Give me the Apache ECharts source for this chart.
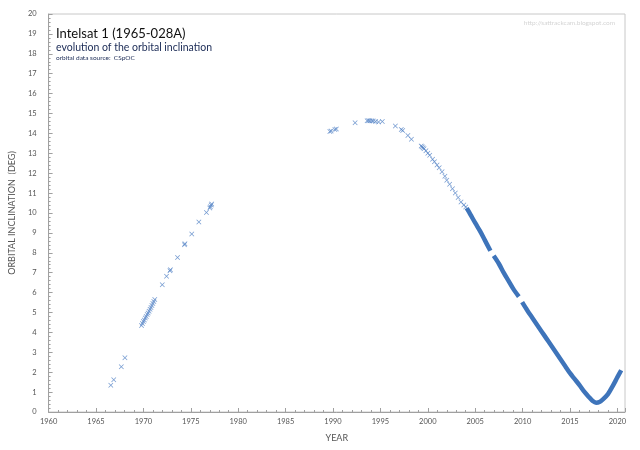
<!DOCTYPE html>
<html>
<head>
<meta charset="utf-8">
<script src="https://cdn.jsdelivr.net/npm/echarts@6/dist/echarts.min.js"></script>
<style>
html, body { margin: 0; padding: 0; background: #fff; }
#chart { width: 640px; height: 450px; }
</style>
</head>
<body>
<div id="chart"></div>
<script>
// sparse tracking points [year, inclination]
var earlyPoints = [
    [1966.56, 1.35], [1966.87, 1.62], [1967.67, 2.28], [1968.05, 2.72],
    [1969.8, 4.35], [1969.9, 4.45], [1970.0, 4.55], [1970.1, 4.62], [1970.2, 4.72],
    [1970.3, 4.8], [1970.4, 4.9], [1970.5, 4.98], [1970.6, 5.06], [1970.7, 5.16],
    [1970.8, 5.25], [1970.9, 5.35], [1971.0, 5.45], [1971.1, 5.55], [1971.2, 5.65],
    [1971.99, 6.4], [1972.44, 6.82], [1972.8, 7.1], [1972.85, 7.15], [1973.6, 7.76],
    [1974.33, 8.41], [1974.38, 8.45], [1975.1, 8.94], [1975.85, 9.55], [1976.65, 10.03],
    [1977.0, 10.25], [1977.06, 10.32], [1977.15, 10.4], [1977.2, 10.45]
];
var midPoints = [
    [1989.67, 14.1], [1989.8, 14.12], [1990.2, 14.2], [1990.35, 14.22], [1992.33, 14.54],
    [1993.6, 14.63], [1993.75, 14.64], [1993.9, 14.64], [1994.1, 14.63], [1994.25, 14.62],
    [1994.5, 14.6], [1994.8, 14.57], [1995.2, 14.6], [1996.58, 14.37], [1997.2, 14.2],
    [1997.35, 14.15], [1997.9, 13.9], [1998.27, 13.7],
    [1999.3, 13.37], [1999.4, 13.33], [1999.5, 13.28], [1999.6, 13.23], [1999.8, 13.13],
    [2000.0, 13.0], [2000.2, 12.9], [2000.5, 12.7], [2000.7, 12.58], [2000.97, 12.41],
    [2001.2, 12.27], [2001.5, 12.07], [2001.8, 11.85], [2002.0, 11.65], [2002.3, 11.45],
    [2002.6, 11.22], [2002.9, 11.0], [2003.2, 10.78], [2003.5, 10.55], [2003.8, 10.4],
    [2004.0, 10.3]
];
// dense daily tracking, drawn as a thick band (null = data gap)
var denseBand = [
    [2004.1, 10.25], [2004.5, 9.92], [2005.0, 9.5], [2005.5, 9.1], [2006.0, 8.65], [2006.6, 8.1],
    [2006.75, null],
    [2006.95, 7.85], [2007.5, 7.45], [2008.0, 7.0], [2008.5, 6.6], [2009.0, 6.2], [2009.6, 5.8],
    [2009.75, null],
    [2009.95, 5.52], [2010.5, 5.1], [2011.0, 4.75], [2011.5, 4.4], [2012.0, 4.05], [2012.5, 3.7],
    [2013.0, 3.35], [2013.5, 3.0], [2014.0, 2.65], [2014.5, 2.3], [2015.0, 1.95], [2015.5, 1.65],
    [2016.0, 1.35], [2016.5, 1.02], [2017.0, 0.75], [2017.4, 0.55], [2017.75, 0.47], [2018.1, 0.5],
    [2018.5, 0.65], [2019.0, 0.9], [2019.5, 1.3], [2020.0, 1.75], [2020.4, 2.1]
];

var crossMark = 'path://M1,0L5,4L9,0L10,1L6,5L10,9L9,10L5,6L1,10L0,9L4,5L0,1Z';
var axisGray = '#a0a0a0';
var labelFont = 'Lato';

var dom = document.getElementById("chart");
var myChart = echarts.init(dom);
var option = null;

option = {
    backgroundColor: '#fff',
    animation: false,
    grid: {
        left: 38, right: 15, top: 14, bottom: 38,
        show: true,
        borderColor: '#c8c8c8',
        borderWidth: 1
    },
    title: [{
        text: 'Intelsat 1 (1965-028A)',
        left: 51, top: 22,
        textStyle: {fontFamily: labelFont, fontSize: 13, fontWeight: 'normal', color: '#111'}
    }, {
        text: 'evolution of the orbital inclination',
        left: 51, top: 37,
        textStyle: {fontFamily: labelFont, fontSize: 10.5, fontWeight: 'normal', color: '#1a2a55'}
    }, {
        text: 'orbital data source:  CSpOC',
        left: 51, top: 49,
        textStyle: {fontFamily: labelFont, fontSize: 6.5, fontWeight: 'normal', color: '#1a2a55'}
    }, {
        text: 'http://sattrackcam.blogspot.com',
        right: 20, top: 14,
        textStyle: {fontFamily: labelFont, fontSize: 6.5, fontWeight: 'normal', color: '#d4d4d4'}
    }],
    xAxis: [{
        type: 'value',
        min: 1960,
        max: 2020.8,
        interval: 5,
        name: 'YEAR',
        nameLocation: 'middle',
        nameGap: 22,
        nameTextStyle: {fontFamily: labelFont, fontSize: 9, color: '#555'},
        axisLine: {lineStyle: {color: axisGray}},
        axisTick: {inside: true, length: 4, lineStyle: {color: axisGray}},
        minorTick: {show: true, splitNumber: 5, length: 2, lineStyle: {color: axisGray}},
        axisLabel: {fontFamily: labelFont, fontSize: 7.5, color: '#555', margin: 6,
            formatter: function (v) { return v % 5 === 0 ? String(v) : ''; }},
        splitLine: {show: false}
    }],
    yAxis: [{
        type: 'value',
        min: 0,
        max: 20,
        interval: 1,
        name: 'ORBITAL INCLINATION  (DEG)',
        nameLocation: 'middle',
        nameGap: 23,
        nameTextStyle: {fontFamily: labelFont, fontSize: 9, color: '#555'},
        axisLine: {show: true, lineStyle: {color: axisGray}},
        axisTick: {show: true, inside: true, length: 4, lineStyle: {color: axisGray}},
        minorTick: {show: true, splitNumber: 5, length: 2, lineStyle: {color: axisGray}},
        axisLabel: {fontFamily: labelFont, fontSize: 7.5, color: '#555', margin: 12},
        splitLine: {show: false}
    }],
    series: [{
        name: 'early',
        type: 'scatter',
        symbol: crossMark,
        symbolSize: 5,
        itemStyle: {color: '#4f7fc4', opacity: 0.8},
        data: earlyPoints
    }, {
        name: 'mid',
        type: 'scatter',
        symbol: crossMark,
        symbolSize: 5,
        itemStyle: {color: '#4f7fc4', opacity: 0.8},
        data: midPoints
    }, {
        name: 'dense',
        type: 'line',
        showSymbol: false,
        smooth: 0.3,
        connectNulls: false,
        lineStyle: {color: '#3e74ba', width: 4.5, cap: 'butt'},
        data: denseBand
    }]
};
if (option && typeof option === "object") {
    myChart.setOption(option, true);
}
</script>
</body>
</html>
